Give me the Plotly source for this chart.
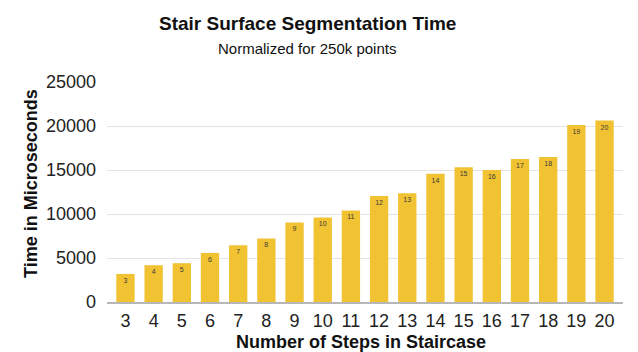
import plotly.graph_objects as go

# Number of steps per staircase and the normalized segmentation time (µs)
steps = [3, 4, 5, 6, 7, 8, 9, 10, 11, 12, 13, 14, 15, 16, 17, 18, 19, 20]
time_us = [3190, 4180, 4410, 5580, 6460, 7220, 9040, 9610, 10410, 12040,
           12350, 14580, 15310, 15000, 16250, 16480, 20120, 20620]
y_ticks = [0, 5000, 10000, 15000, 20000, 25000]

FONT = "Arial, Liberation Sans, sans-serif"
W, H = 638, 352
L, R, T, B = 107, 15, 82, 50

fig = go.Figure(
    go.Bar(
        x=[str(s) for s in steps],
        y=time_us,
        text=[str(s) for s in steps],
        textposition="inside",
        insidetextanchor="end",
        textangle=0,
        textfont=dict(family=FONT, size=7, color="#3a3a3a"),
        marker=dict(color="#F1C232", line=dict(width=0)),
        hoverinfo="x+y",
    )
)

n = len(steps)
pad = 0.155
fig.update_layout(
    width=W,
    height=H,
    margin=dict(l=L, r=R, t=T, b=B),
    paper_bgcolor="white",
    plot_bgcolor="white",
    bargap=0.35,
    showlegend=False,
    font=dict(family=FONT, color="#222222"),
    xaxis=dict(
        type="category",
        range=[-0.5 - pad, n - 0.5 + pad],
        automargin=False,
        showgrid=False,
        showline=True,
        linecolor="#b7b7b7",
        linewidth=1.5,
        ticks="",
        ticklabelstandoff=2,
        tickfont=dict(size=18, color="#222222"),
    ),
    yaxis=dict(
        range=[0, 25000],
        automargin=False,
        tickvals=y_ticks,
        ticktext=[str(v) for v in y_ticks],
        showgrid=True,
        gridcolor="#e3e3e3",
        gridwidth=1,
        zeroline=False,
        ticks="",
        ticklabelstandoff=10,
        tickfont=dict(size=18, color="#222222"),
    ),
    annotations=[
        dict(text="<b>Stair Surface Segmentation Time</b>",
             xref="paper", yref="paper",
             x=(307 - L) / (W - L - R), y=1 + (T - 24) / (H - T - B),
             xanchor="center", yanchor="middle", showarrow=False,
             font=dict(family=FONT, size=19, color="#111111")),
        dict(text="Normalized for 250k points",
             xref="paper", yref="paper",
             x=(307 - L) / (W - L - R), y=1 + (T - 48) / (H - T - B),
             xanchor="center", yanchor="middle", showarrow=False,
             font=dict(family=FONT, size=15, color="#111111")),
        # axis titles
        dict(text="<b>Number of Steps in Staircase</b>",
             xref="paper", yref="paper",
             x=(361 - L) / (W - L - R), y=-(342 - (H - B)) / (H - T - B),
             xanchor="center", yanchor="middle", showarrow=False,
             font=dict(family=FONT, size=18, color="#111111")),
        dict(text="<b>Time in Microseconds</b>", textangle=-90,
             xref="paper", yref="paper",
             x=-(L - 31) / (W - L - R), y=(H - B - 184) / (H - T - B),
             xanchor="center", yanchor="middle", showarrow=False,
             font=dict(family=FONT, size=18, color="#111111")),
    ],
)

fig.write_html("out.html")
